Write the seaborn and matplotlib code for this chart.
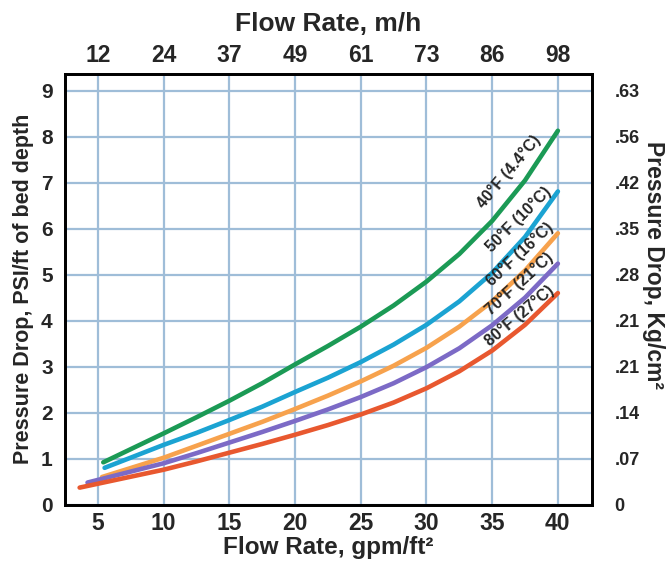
"""
Pressure drop vs flow rate chart
"""

import matplotlib
matplotlib.use('Agg')

import pandas as pd
import matplotlib.pyplot as plt
import seaborn as sns

# data
flow_gpm = [10, 12.5, 15, 17.5, 20, 22.5, 25, 27.5, 30, 32.5, 35, 37.5, 40]
start_x = {"40": 5.4, "50": 5.5, "60": 5.3, "70": 4.2, "80": 3.6}
start_y = {"40": 0.92, "50": 0.80, "60": 0.60, "70": 0.48, "80": 0.37}
drop_40F = [1.55, 1.90, 2.26, 2.64, 3.05, 3.45, 3.87, 4.33, 4.85, 5.45, 6.17, 7.05, 8.13]
drop_50F = [1.30, 1.56, 1.84, 2.13, 2.45, 2.76, 3.10, 3.48, 3.91, 4.42, 5.04, 5.82, 6.81]
drop_60F = [1.02, 1.28, 1.54, 1.80, 2.08, 2.37, 2.68, 3.02, 3.41, 3.87, 4.42, 5.09, 5.90]
drop_70F = [0.90, 1.12, 1.35, 1.58, 1.82, 2.07, 2.34, 2.64, 2.99, 3.40, 3.90, 4.50, 5.24]
drop_80F = [0.76, 0.94, 1.13, 1.32, 1.52, 1.73, 1.96, 2.22, 2.53, 2.90, 3.35, 3.91, 4.60]

curve_names = ["40", "50", "60", "70", "80"]
curve_labels = ["40°F (4.4°C)", "50°F (10°C)", "60°F (16°C)", "70°F (21°C)", "80°F (27°C)"]
colors = ["#1b9a55", "#1ba3d2", "#f7a24d", "#7c6ac6", "#e8582f"]

bottom_ticks = [5, 10, 15, 20, 25, 30, 35, 40]
top_tick_labels = ["12", "24", "37", "49", "61", "73", "86", "98"]
left_ticks = [0, 1, 2, 3, 4, 5, 6, 7, 8, 9]
right_tick_labels = ["0", ".07", ".14", ".21", ".21", ".28", ".35", ".42", ".56", ".63"]

sns.set_style("white")
plt.rcParams['font.family'] = ['Liberation Sans', 'DejaVu Sans']
plt.rcParams['font.weight'] = 'bold'

# long table for seaborn
series = {"40": drop_40F, "50": drop_50F, "60": drop_60F, "70": drop_70F, "80": drop_80F}
rows = []
for name in curve_names:
    rows.append({"curve": name, "x": start_x[name], "y": start_y[name]})
    for xv, yv in zip(flow_gpm, series[name]):
        rows.append({"curve": name, "x": xv, "y": yv})
df = pd.DataFrame(rows)

fig = plt.figure(figsize=(6.72, 5.67), dpi=100)
ax = fig.add_axes([0.097, 0.110, 0.784, 0.760])

sns.lineplot(data=df, x="x", y="y", hue="curve", palette=dict(zip(curve_names, colors)),
             linewidth=3.3, legend=False, sort=False, ax=ax,
             solid_capstyle='round', solid_joinstyle='round')

ax.set_xlim(2.5, 42.6)
ax.set_ylim(0, 9.37)
ax.set_xticks(bottom_ticks)
ax.set_yticks(left_ticks)
ax.grid(True, color='#9fbdd8', linewidth=1.6)
ax.set_axisbelow(True)
for sp in ax.spines.values():
    sp.set_color('black')
    sp.set_linewidth(1.8)
ax.tick_params(axis='x', length=0, labelsize=16.5, pad=5)
ax.tick_params(axis='y', length=0, labelsize=15, pad=9)
ax.set_xlabel("Flow Rate, gpm/ft²", fontsize=17.5, fontweight='bold', labelpad=1)
ax.set_ylabel("Pressure Drop, PSI/ft of bed depth", fontsize=15.5, fontweight='bold', labelpad=5)

# curve labels
label_pos = [(36.3, 7.25, 50), (37.0, 6.2, 45), (37.1, 5.45, 43), (37.1, 4.8, 42), (37.1, 4.1, 40)]
for (lx, ly, rot), txt in zip(label_pos, curve_labels):
    ax.text(lx, ly, txt, rotation=rot, fontsize=11.5, fontweight='bold',
            ha='center', va='center', rotation_mode='anchor')

# top axis, m/h
ax_top = ax.twiny()
ax_top.set_xlim(ax.get_xlim())
ax_top.set_xticks(bottom_ticks)
ax_top.set_xticklabels(top_tick_labels)
ax_top.tick_params(length=0, labelsize=16.5, pad=5)
ax_top.set_xlabel("Flow Rate, m/h", fontsize=19, fontweight='bold', labelpad=9)

# right axis, kg/cm2
ax_right = ax.twinx()
ax_right.set_ylim(ax.get_ylim())
ax_right.set_yticks(left_ticks)
ax_right.set_yticklabels(right_tick_labels)
ax_right.tick_params(length=0, labelsize=13, pad=16)
ax_right.set_ylabel("Pressure Drop, Kg/cm²", fontsize=16.5, fontweight='bold',
                    rotation=270, labelpad=18)
ax_right.yaxis.label.set_y(0.555)
for a in (ax_top, ax_right):
    for sp in a.spines.values():
        sp.set_color('black')
        sp.set_linewidth(1.8)

fig.savefig("out.png", dpi=100)
plt.close(fig)
